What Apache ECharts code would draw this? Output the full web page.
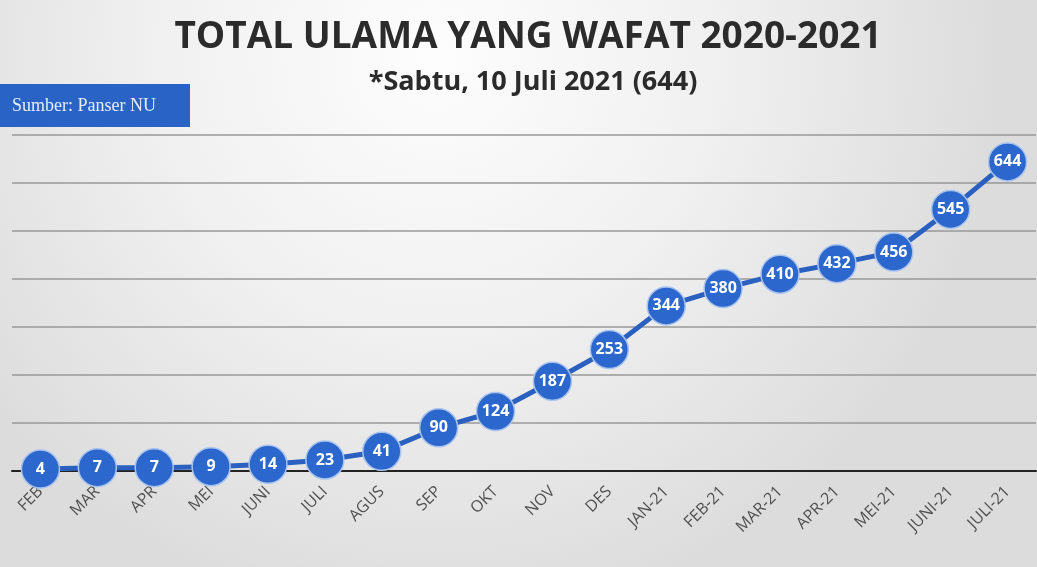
<!DOCTYPE html>
<html><head><meta charset="utf-8">
<script src="https://cdn.jsdelivr.net/npm/echarts@6/dist/echarts.min.js"></script>
<style>html,body{margin:0;padding:0;}#c{width:1037px;height:567px;}</style>
</head><body><div id="c"></div>
<script>
const categories = ['FEB','MAR','APR','MEI','JUNI','JULI','AGUS','SEP','OKT','NOV','DES','JAN-21','FEB-21','MAR-21','APR-21','MEI-21','JUNI-21','JULI-21'];
const totals = [4,7,7,9,14,23,41,90,124,187,253,344,380,410,432,456,545,644];
const titleText = 'TOTAL ULAMA YANG WAFAT 2020-2021';
const subtitleText = '*Sabtu, 10 Juli 2021 (644)';
const sourceText = 'Sumber: Panser NU';

const chart = echarts.init(document.getElementById('c'), null, {renderer:'canvas'});
chart.setOption({
  backgroundColor: {
    type:'radial', x:0.42, y:0.1, r:1.0,
    colorStops:[{offset:0,color:'#fdfdfd'},{offset:0.5,color:'#f0f0f0'},{offset:1,color:'#dcdcdc'}]
  },
  animation:false,
  title:[{
    text:titleText, left:523, top:14, textAlign:'center',
    textStyle:{fontFamily:'Open Sans', fontWeight:'bold', fontSize:37, color:'#2b2b2b'}
  },{
    text:subtitleText, left:528, top:64, textAlign:'center',
    textStyle:{fontFamily:'Open Sans', fontWeight:'bold', fontSize:27, color:'#2b2b2b'}
  }],
  graphic:[{
    type:'rect', left:0, top:84, shape:{width:190, height:43},
    style:{fill:'#2a63c6'}
  },{
    type:'text', left:12, top:97,
    style:{text:sourceText, fill:'#e6eefc', font:'18px "Liberation Serif"'}
  }],
  grid:{left:12, right:1, top:135, bottom:96, containLabel:false},
  xAxis:{
    type:'category', data:categories, boundaryGap:true,
    axisLine:{show:true, lineStyle:{color:'#222', width:2}},
    axisTick:{show:false},
    axisLabel:{rotate:45, color:'#505050', fontFamily:'Open Sans', fontSize:16, margin:18, interval:0}
  },
  yAxis:{
    type:'value', min:0, max:700, interval:100,
    axisLine:{show:false}, axisTick:{show:false}, axisLabel:{show:false},
    splitLine:{lineStyle:{color:'#999999', width:1.5}}
  },
  series:[{
    type:'line', data:totals, z:3,
    lineStyle:{color:'#2a60bf', width:5},
    symbol:'circle', symbolSize:38,
    itemStyle:{color:'#2b67cc', borderColor:'#a9c3ee', borderWidth:1.5},
    label:{show:true, position:'inside', color:'#ffffff', fontFamily:'Open Sans', fontWeight:'bold', fontSize:16}
  }]
});
</script></body></html>
